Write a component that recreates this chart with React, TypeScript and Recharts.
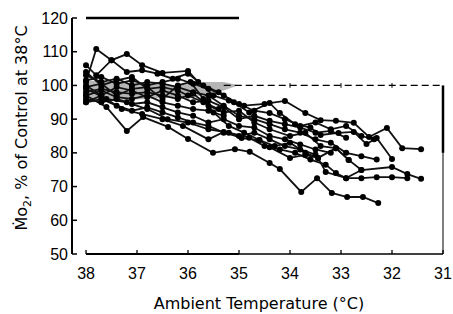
import React from "react";
import { ComposedChart, Line, Area, XAxis, YAxis, ReferenceLine } from "recharts";

// temperature ticks (axis runs 38 -> 31) and MO2 ticks
const tempTicks = [38, 37, 36, 35, 34, 33, 32, 31];
const mo2Ticks = [50, 60, 70, 80, 90, 100, 110, 120];

// stippled control band (38 -> 35 °C)
const bandTemp = [38, 37.5, 36.8, 36.2, 35.7, 35.3, 35.05];
const bandLow = [94.8, 95.5, 96, 96.5, 97, 98.5, 99.8];
const bandHigh = [101.5, 101, 100.5, 100, 101, 101, 100.2];

// individual animals: [temperature, % of control]
const fishA: [number, number][] = [[38, 101], [37.8, 110.8], [37.5, 107.5], [37.2, 109.3], [36.9, 106], [36.5, 103.7], [36.0, 104.3], [35.8, 101], [35.5, 97], [35.2, 95.5], [34.9, 94], [34.5, 94.5], [34.1, 95.4], [33.7, 91.8], [33.4, 89.7], [33.1, 89.5], [32.75, 88.9], [32.45, 84.7], [32.1, 87.4], [31.8, 81.4], [31.43, 81.1]];
const fishB: [number, number][] = [[38, 106], [37.8, 103], [37.5, 107.5], [37.2, 104], [36.9, 104.5], [36.6, 103.5], [36.3, 102], [36.0, 103.5], [35.7, 100], [35.4, 98], [35.1, 95], [34.8, 92], [34.4, 94.8], [34.2, 91.8], [33.9, 88.5], [33.6, 87.5], [33.4, 85.3], [33.05, 85.9], [32.75, 86.2], [32.5, 82.6], [32.3, 84.4], [32.0, 78.2]];
const fishC: [number, number][] = [[38, 97], [37.6, 93.6], [37.2, 86.5], [36.88, 90.6], [36.39, 87.7], [36.0, 84.1], [35.51, 80.0], [35.08, 81.1], [34.79, 80.3], [34.4, 77.0], [34.2, 75.2], [33.78, 68.4], [33.47, 72.5], [33.18, 68.1], [32.88, 66.9], [32.57, 66.9], [32.27, 65.1]];
const fishD: [number, number][] = [[38, 95], [37.7, 97], [37.3, 93], [36.9, 91.5], [36.5, 90], [36.1, 88], [35.6, 84], [35.3, 86.2], [34.95, 84.4], [34.6, 83.8], [34.4, 81.7], [34.0, 78.5], [33.7, 79.4], [33.45, 78.5], [33.3, 74.3], [32.9, 72.5], [32.6, 74.9], [32.0, 75.8], [31.7, 73.7], [31.43, 72.3]];
const fishE: [number, number][] = [[38, 99], [37.6, 96], [37.2, 95], [36.8, 93], [36.4, 90], [36.0, 89], [35.6, 87], [35.2, 86], [34.8, 84.5], [34.5, 82], [34.2, 81], [33.9, 80], [33.6, 78], [33.3, 76.5], [33.1, 74], [32.9, 72.5], [32.6, 72.5], [32.3, 72.8], [32.0, 72.8], [31.7, 72.5]];
const fishF: [number, number][] = [[38, 103], [37.7, 101], [37.4, 102], [37.1, 100], [36.8, 101], [36.5, 100.5], [36.2, 99.5], [35.9, 98], [35.6, 97], [35.3, 94], [35.0, 91], [34.7, 90], [34.4, 88.5], [34.1, 87], [33.8, 86], [33.5, 84], [33.2, 83], [32.9, 80], [32.6, 79], [32.3, 78]];
const fishG: [number, number][] = [[38, 98], [37.7, 99], [37.4, 98], [37.1, 97.5], [36.8, 98], [36.5, 97], [36.2, 96], [35.9, 97.5], [35.6, 94], [35.3, 92], [35.0, 92.5], [34.7, 89], [34.4, 87], [34.0, 85], [33.7, 86], [33.4, 82], [33.1, 81.4], [32.85, 77.9], [32.6, 74.9]];
const fishH: [number, number][] = [[38, 100], [37.7, 97], [37.4, 99.5], [37.1, 98.5], [36.8, 96.5], [36.5, 98.5], [36.2, 97], [35.9, 95], [35.6, 95.5], [35.3, 93.5], [35.0, 90], [34.7, 91], [34.4, 89.5], [34.1, 88.5], [33.8, 87.5], [33.5, 86], [33.2, 86.5], [32.9, 84.5]];
const fishI: [number, number][] = [[38, 96], [37.7, 95], [37.4, 96], [37.1, 94.5], [36.8, 95], [36.5, 93.5], [36.2, 92], [35.9, 91], [35.6, 89], [35.3, 90], [35.0, 88], [34.7, 87.5], [34.4, 85], [34.1, 84], [33.8, 82.5], [33.5, 81], [33.2, 80]];
const fishJ: [number, number][] = [[38, 99.5], [37.7, 100.5], [37.4, 97], [37.1, 99], [36.8, 99.5], [36.5, 96], [36.2, 100], [35.95, 101], [35.7, 96], [35.5, 92], [35.2, 88], [34.9, 86], [34.6, 83.8], [34.3, 82], [34.0, 83], [33.7, 80], [33.45, 78.5], [33.1, 81.4], [32.85, 77.9]];
const fishK: [number, number][] = [[38, 101.5], [37.7, 102.5], [37.4, 100.5], [37.1, 101.5], [36.8, 100], [36.5, 101], [36.2, 102], [35.9, 100.5], [35.6, 99], [35.3, 97], [35.0, 94.5], [34.7, 92.5], [34.4, 91.8], [34.1, 90], [33.8, 88], [33.5, 89], [33.2, 87], [32.9, 88], [32.6, 85], [32.35, 84]];
const fishL: [number, number][] = [[38, 97], [37.7, 98.5], [37.4, 96.5], [37.1, 96], [36.8, 97], [36.5, 95], [36.2, 94], [35.9, 93], [35.6, 92.5], [35.3, 91]];
const fishM: [number, number][] = [[38, 95], [37.7, 96], [37.4, 94], [37.1, 92.5], [36.8, 93.5], [36.5, 92], [36.2, 90.5], [35.9, 89], [35.6, 88], [35.3, 86], [35.0, 85], [34.7, 86], [34.4, 84], [34.1, 82], [33.8, 81], [33.5, 79.5]];
const fishN: [number, number][] = [[38, 104], [37.7, 100], [37.4, 101.5], [37.1, 102.5], [36.8, 99], [36.5, 99.5], [36.2, 98.5], [36.0, 97], [35.7, 95], [35.4, 93]];

const allFish = [fishA, fishB, fishC, fishD, fishE, fishF, fishG, fishH, fishI, fishJ, fishK, fishL, fishM, fishN];

const band = bandTemp.map((t, i) => ({ t, range: [bandLow[i], bandHigh[i]] }));
const series = allFish.map((f) => f.map(([t, v]) => ({ t, v })));

const AXIS_X = 72;
const AXIS_Y = 254;

function YTick({ y, payload }: any) {
  return (
    <g>
      <line x1={AXIS_X} x2={AXIS_X + 5} y1={y} y2={y} stroke="#000" strokeWidth={1.5} />
      <text x={AXIS_X - 4} y={y} dy={5.5} textAnchor="end" fontSize={16} fontFamily="Liberation Sans" fill="#000">
        {payload.value}
      </text>
    </g>
  );
}

function XTick({ x, payload }: any) {
  return (
    <g>
      <line x1={x} x2={x} y1={AXIS_Y} y2={AXIS_Y - 4} stroke="#000" strokeWidth={1.3} />
      <text x={x} y={279} textAnchor="middle" fontSize={16} fontFamily="Liberation Sans" fill="#000">
        {payload.value}
      </text>
    </g>
  );
}

export default function App() {
  return (
    <div style={{ position: "absolute", left: 0, top: 0, background: "#fff" }}>
      <ComposedChart width={453} height={314} margin={{ top: 18, right: 10, left: 12, bottom: 30 }}>
        <XAxis
          type="number"
          dataKey="t"
          domain={[31, 38.275]}
          reversed
          ticks={tempTicks}
          axisLine={false}
          tickLine={false}
          tick={<XTick />}
          height={30}
          allowDataOverflow
          label={{
            content: () => (
              <text x={259} y={309} textAnchor="middle" fontSize={16} fontFamily="DejaVu Sans" fill="#000">
                Ambient Temperature (°C)
              </text>
            ),
          }}
        />
        <YAxis
          type="number"
          domain={[50, 120]}
          ticks={mo2Ticks}
          width={60}
          axisLine={{ stroke: "#000", strokeWidth: 2 }}
          tickLine={false}
          tick={<YTick />}
          allowDataOverflow
          label={{
            content: () => (
              <text transform="translate(27,128) rotate(-90)" textAnchor="middle" fontSize={16} fontFamily="DejaVu Sans" fill="#000">
                <tspan>Ṁo</tspan>
                <tspan dy={4} fontSize={11}>2</tspan>
                <tspan dy={-4}>, % of Control at 38°C</tspan>
              </text>
            ),
          }}
        />
        <Area
          data={band}
          dataKey="range"
          type="linear"
          stroke="none"
          fill="#9c9c9c"
          fillOpacity={0.75}
          isAnimationActive={false}
        />
        <ReferenceLine segment={[{ x: 38, y: 50 }, { x: 35, y: 50 }]} stroke="#000" strokeWidth={2} />
        <ReferenceLine segment={[{ x: 35, y: 50 }, { x: 31, y: 50 }]} stroke="#000" strokeWidth={1.3} />
        <ReferenceLine segment={[{ x: 38, y: 120 }, { x: 35, y: 120 }]} stroke="#000" strokeWidth={2.5} />
        <ReferenceLine segment={[{ x: 35.3, y: 100 }, { x: 31, y: 100 }]} stroke="#000" strokeWidth={1.2} strokeDasharray="7 4" />
        <ReferenceLine segment={[{ x: 34, y: 99.3 }, { x: 34, y: 100.7 }]} stroke="#000" strokeWidth={1} />
        <ReferenceLine segment={[{ x: 33, y: 99.3 }, { x: 33, y: 100.7 }]} stroke="#000" strokeWidth={1} />
        <ReferenceLine segment={[{ x: 32, y: 99.3 }, { x: 32, y: 100.7 }]} stroke="#000" strokeWidth={1} />
        <ReferenceLine segment={[{ x: 31, y: 100 }, { x: 31, y: 80 }]} stroke="#000" strokeWidth={2.5} />
        <ReferenceLine segment={[{ x: 31, y: 80 }, { x: 31, y: 50 }]} stroke="#000" strokeWidth={1} />
        {series.map((d, i) => (
          <Line
            key={i}
            data={d}
            dataKey="v"
            type="linear"
            stroke="#111"
            strokeWidth={1.8}
            dot={{ r: 3, fill: "#000", stroke: "#000", strokeWidth: 0 }}
            activeDot={false}
            isAnimationActive={false}
          />
        ))}
      </ComposedChart>
    </div>
  );
}
